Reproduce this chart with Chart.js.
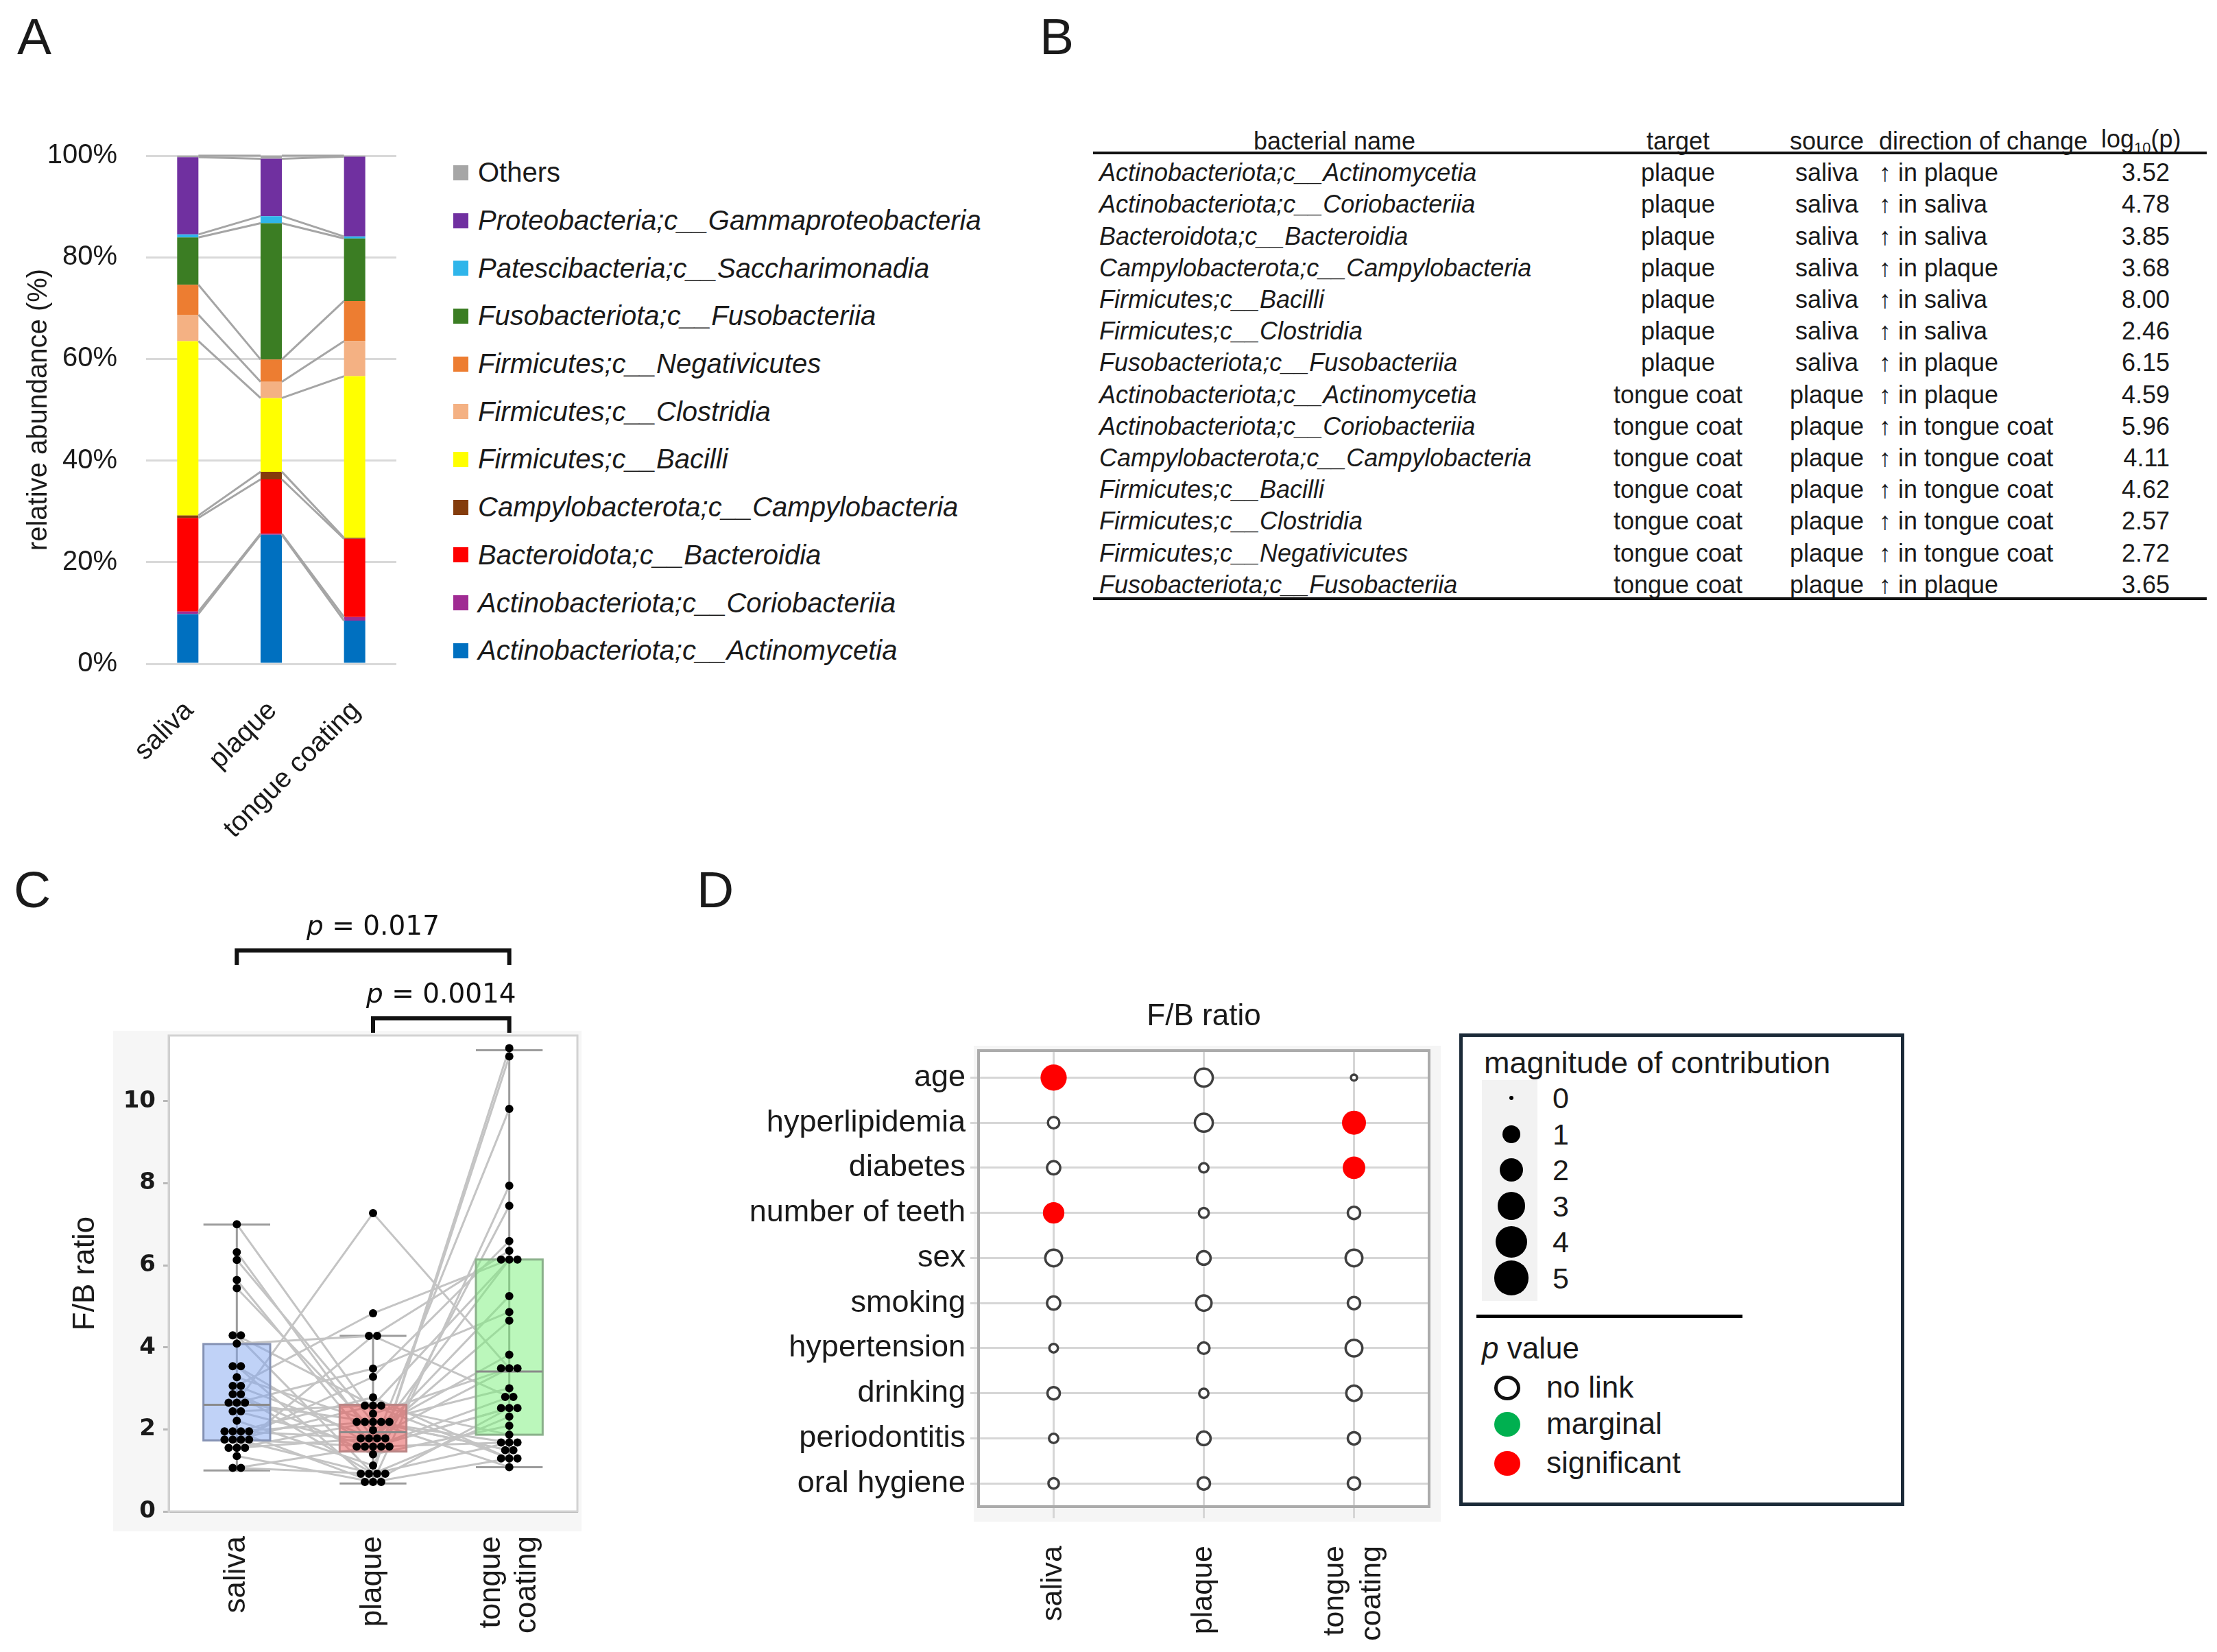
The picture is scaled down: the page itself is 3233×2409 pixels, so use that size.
<!DOCTYPE html>
<html>
<head>
<meta charset="utf-8">
<script src="https://cdn.jsdelivr.net/npm/chart.js@4.4.1/dist/chart.umd.min.js"></script>
<style>
  html, body { margin: 0; padding: 0; background: #fff; }
  body { position: relative; width: 3233px; height: 2409px; overflow: hidden;
         font-family: 'Liberation Sans', Arial, sans-serif; color: #1a1a1a; }
  canvas { position: absolute; }
  .panel-label { position: absolute; font-size: 75px; line-height: 1; }
  .it { font-style: italic; }

  #legendA { position: absolute; left: 661px; top: 217px; }
  #legendA .row { height: 69.7px; display: flex; align-items: center; font-size: 40px; white-space: nowrap; }
  #legendA .swatch { width: 22px; height: 22px; margin-right: 14px; flex: none; }

  #tableB { position: absolute; left: 1588px; top: 182px; width: 1624px; border-collapse: collapse;
            table-layout: fixed; font-size: 36px; }
  #tableB th, #tableB td { padding: 0; white-space: nowrap; font-weight: normal; }
  #tableB th { height: 46px; text-align: center; }
  #tableB td { height: 46.2px; text-align: center; }
  #tableB .c1 { text-align: left; padding-left: 15px; font-style: italic; }
  #tableB th.c1 { text-align: center; padding-left: 0; font-style: normal; }
  #tableB .c4 { text-align: left; padding-left: 2px; }
  #tableB th.c5 { padding-right: 56px; }
  #tableB td.c5 { text-align: right; padding-right: 48px; }
  .rule { position: absolute; background: #111; }

  #legendD { position: absolute; left: 2128px; top: 1507px; width: 649px; height: 689px;
             box-sizing: border-box; border: 5px solid #1b2a38; }
  .abs { position: absolute; white-space: nowrap; }
  .dot { position: absolute; border-radius: 50%; box-sizing: border-box; }
</style>
</head>
<body>

<div class="panel-label" style="left:25px; top:16px;">A</div>
<div class="panel-label" style="left:1516px; top:16px;">B</div>
<div class="panel-label" style="left:20px; top:1260px;">C</div>
<div class="panel-label" style="left:1016px; top:1260px;">D</div>

<canvas id="chartA" width="640" height="1120" style="left:0px; top:140px;"></canvas>
<div id="legendA"></div>

<table id="tableB">
  <colgroup>
    <col style="width:716px"><col style="width:286px"><col style="width:148px"><col style="width:326px"><col style="width:148px">
  </colgroup>
  <thead>
    <tr><th class="c1">bacterial name</th><th>target</th><th>source</th><th class="c4">direction of change</th><th class="c5">log<sub style="font-size:22px">10</sub>(p)</th></tr>
  </thead>
  <tbody id="tableBody"></tbody>
</table>
<div class="rule" style="left:1594px; top:221px; width:1624px; height:4px;"></div>
<div class="rule" style="left:1594px; top:871px; width:1624px; height:4px;"></div>

<canvas id="chartC" width="900" height="1109" style="left:0px; top:1300px;"></canvas>

<canvas id="chartD" width="1080" height="989" style="left:1040px; top:1420px;"></canvas>
<div id="legendD"></div>

<script>
// ---- A: class composition ----
const siteLabels = ['saliva', 'plaque', 'tongue coating'];
const taxaNames = [
    'Actinobacteriota;c__Actinomycetia',
    'Actinobacteriota;c__Coriobacteriia',
    'Bacteroidota;c__Bacteroidia',
    'Campylobacterota;c__Campylobacteria',
    'Firmicutes;c__Bacilli',
    'Firmicutes;c__Clostridia',
    'Firmicutes;c__Negativicutes',
    'Fusobacteriota;c__Fusobacteriia',
    'Patescibacteria;c__Saccharimonadia',
    'Proteobacteria;c__Gammaproteobacteria',
    'Others'
];
const taxaColors = ['#0070c0', '#a02b93', '#ff0000', '#843c0c', '#ffff00', '#f4b183',
                    '#ed7d31', '#3b7d23', '#2fb5ea', '#7030a0', '#a6a6a6'];
// relative abundance (%), same order as taxaNames
const salivaAbundance = [9.8, 0.5, 18.4, 0.5, 34.3, 5.2, 5.9, 9.3, 0.6, 15.2, 0.3];
const plaqueAbundance = [25.4, 0.2, 10.7, 1.5, 14.5, 3.2, 4.4, 26.8, 1.4, 11.3, 0.6];
const tongueAbundance = [8.5, 0.7, 15.4, 0.2, 31.8, 6.9, 7.9, 12.3, 0.4, 15.7, 0.2];
const abundanceTicks = [0, 20, 40, 60, 80, 100];

// ---- B: differential abundance table ----
const tableNames = [
    'Actinobacteriota;c__Actinomycetia', 'Actinobacteriota;c__Coriobacteriia', 'Bacteroidota;c__Bacteroidia',
    'Campylobacterota;c__Campylobacteria', 'Firmicutes;c__Bacilli', 'Firmicutes;c__Clostridia',
    'Fusobacteriota;c__Fusobacteriia', 'Actinobacteriota;c__Actinomycetia', 'Actinobacteriota;c__Coriobacteriia',
    'Campylobacterota;c__Campylobacteria', 'Firmicutes;c__Bacilli', 'Firmicutes;c__Clostridia',
    'Firmicutes;c__Negativicutes', 'Fusobacteriota;c__Fusobacteriia'
];
const tableTargets = ['plaque', 'plaque', 'plaque', 'plaque', 'plaque', 'plaque', 'plaque',
                      'tongue coat', 'tongue coat', 'tongue coat', 'tongue coat', 'tongue coat', 'tongue coat', 'tongue coat'];
const tableSources = ['saliva', 'saliva', 'saliva', 'saliva', 'saliva', 'saliva', 'saliva',
                      'plaque', 'plaque', 'plaque', 'plaque', 'plaque', 'plaque', 'plaque'];
const tableHigherIn = ['plaque', 'saliva', 'saliva', 'plaque', 'saliva', 'saliva', 'plaque',
                       'plaque', 'tongue coat', 'tongue coat', 'tongue coat', 'tongue coat', 'tongue coat', 'plaque'];
const tableLogP = ['3.52', '4.78', '3.85', '3.68', '8.00', '2.46', '6.15',
                   '4.59', '5.96', '4.11', '4.62', '2.57', '2.72', '3.65'];

// ---- C: F/B ratio per subject (index = subject) ----
const fbSites = ['saliva', 'plaque', ['tongue', 'coating']];
const fbSaliva = [7.00, 6.32, 6.13, 5.64, 5.44, 4.29, 4.29, 4.09, 3.54, 3.54, 3.27, 3.06, 3.06, 2.86, 2.86, 2.65, 2.65, 2.65,
                  2.44, 2.44, 2.21, 1.95, 1.95, 1.95, 1.95, 1.75, 1.75, 1.75, 1.75, 1.55, 1.55, 1.55, 1.35, 1.06, 1.06];
const fbPlaque = [2.38, 1.78, 2.18, 1.58, 1.98, 0.92, 2.58, 4.28, 1.58, 0.72, 2.18, 1.78, 4.83, 0.92, 1.39, 7.27, 2.18, 3.48,
                  1.58, 2.58, 1.12, 2.78, 1.78, 0.72, 2.18, 3.28, 1.58, 0.92, 2.58, 2.18, 4.28, 1.78, 0.72, 1.58, 0.92];
const fbTongue = [3.49, 4.65, 1.68, 2.79, 3.82, 11.29, 1.29, 6.35, 2.52, 7.94, 1.49, 6.14, 6.14, 11.09, 2.09, 3.49, 1.08, 4.86,
                  9.81, 1.87, 7.45, 1.29, 5.25, 2.52, 3.00, 6.59, 1.68, 2.31, 6.14, 1.49, 2.79, 3.49, 1.29, 2.52, 1.68];
const boxLow = [1.00, 0.68, 1.08];
const boxQ1 = [1.73, 1.46, 1.87];
const boxMedian = [2.60, 1.93, 3.41];
const boxQ3 = [4.08, 2.60, 6.14];
const boxHigh = [6.99, 4.28, 11.24];
const fbTicks = [0, 2, 4, 6, 8, 10];
const bracketFrom = [0, 1];
const bracketTo = [2, 2];
const bracketP = ['0.017', '0.0014'];

// ---- D: contribution of host factors ----
const factorNames = ['age', 'hyperlipidemia', 'diabetes', 'number of teeth', 'sex', 'smoking',
                     'hypertension', 'drinking', 'periodontitis', 'oral hygiene'];
const contribSaliva = [2.6, 0.5, 0.7, 1.6, 1.2, 0.7, 0.25, 0.6, 0.3, 0.4];
const contribPlaque = [1.4, 1.4, 0.3, 0.35, 0.75, 1.0, 0.5, 0.3, 0.75, 0.6];
const contribTongue = [0.1, 2.1, 1.8, 0.6, 1.2, 0.6, 1.2, 1.0, 0.6, 0.6];
const statusSaliva = ['significant', 'no link', 'no link', 'significant', 'no link', 'no link', 'no link', 'no link', 'no link', 'no link'];
const statusPlaque = ['no link', 'no link', 'no link', 'no link', 'no link', 'no link', 'no link', 'no link', 'no link', 'no link'];
const statusTongue = ['no link', 'significant', 'significant', 'no link', 'no link', 'no link', 'no link', 'no link', 'no link', 'no link'];
const sizeLegendSteps = [0, 1, 2, 3, 4, 5];
const statusLabels = ['no link', 'marginal', 'significant'];
const statusColors = { 'no link': '#ffffff', 'marginal': '#00b050', 'significant': '#ff0000' };

const FONT = "'Liberation Sans', Arial, sans-serif";
const bubbleRadius = v => 3 + 10 * Math.sqrt(v);

Chart.defaults.font.family = FONT;
Chart.defaults.color = '#1a1a1a';

// grey connectors between stacked segment tops (Excel "series lines")
const seriesLinesPlugin = {
    id: 'seriesLines',
    afterDatasetsDraw(chart) {
        const ctx = chart.ctx;
        ctx.save();
        ctx.strokeStyle = '#a5a5a5';
        ctx.lineWidth = 3;
        chart.data.datasets.forEach((ds, k) => {
            const bars = chart.getDatasetMeta(k).data;
            for (let i = 0; i < bars.length - 1; i++) {
                const a = bars[i], b = bars[i + 1];
                ctx.beginPath();
                ctx.moveTo(a.x + a.width / 2, a.y);
                ctx.lineTo(b.x - b.width / 2, b.y);
                ctx.stroke();
            }
        });
        ctx.restore();
    }
};

// vertical category labels (drawn so two-line labels stay centred on the tick)
const siteLabelPlugin = (labels, gap, size, lineGap) => ({
    id: 'siteLabels',
    afterDraw(chart) {
        const { ctx, chartArea, scales: { x } } = chart;
        ctx.save();
        ctx.fillStyle = '#1a1a1a';
        ctx.font = size + 'px ' + FONT;
        ctx.textAlign = 'right';
        ctx.textBaseline = 'middle';
        labels.forEach((label, g) => {
            const lines = [].concat(label);
            ctx.save();
            ctx.translate(x.getPixelForValue(g), chartArea.bottom + gap);
            ctx.rotate(-Math.PI / 2);
            lines.forEach((line, j) => ctx.fillText(line, 0, (j - (lines.length - 1) / 2) * lineGap));
            ctx.restore();
        });
        ctx.restore();
    }
});

// light grey plate behind a plot, white plot area and thin frame
const platePlugin = (pad, plate, frame, frameWidth) => ({
    id: 'plate',
    beforeDraw(chart) {
        const { ctx, chartArea: a } = chart;
        ctx.save();
        ctx.fillStyle = plate;
        ctx.fillRect(a.left - pad[0], a.top - pad[1], a.width + pad[0] + pad[2], a.height + pad[1] + pad[3]);
        ctx.fillStyle = '#ffffff';
        ctx.fillRect(a.left, a.top, a.width, a.height);
        ctx.restore();
    },
    beforeDatasetsDraw(chart) {
        const { ctx, chartArea: a } = chart;
        ctx.save();
        ctx.strokeStyle = frame;
        ctx.lineWidth = frameWidth;
        ctx.strokeRect(a.left, a.top, a.width, a.height);
        ctx.restore();
    }
});

const boxFills = ['rgba(130,165,240,0.5)', 'rgba(230,90,90,0.55)', 'rgba(120,240,120,0.5)'];
const boxEdges = ['#8592b4', '#bb8686', '#8bb08b'];

// whiskers go under the paired lines, the translucent boxes over them, dots on top
const boxPlotPlugin = {
    id: 'boxes',
    beforeDatasetsDraw(chart) {
        const { ctx, scales: { x, y } } = chart;
        ctx.save();
        ctx.lineWidth = 3;
        ctx.strokeStyle = '#9c9c9c';
        boxMedian.forEach((med, g) => {
            const cx = x.getPixelForValue(g);
            const half = x.getPixelForValue(g + 0.245) - cx;
            const yLow = y.getPixelForValue(boxLow[g]);
            const yHigh = y.getPixelForValue(boxHigh[g]);
            ctx.beginPath();
            ctx.moveTo(cx, yHigh); ctx.lineTo(cx, yLow);
            ctx.moveTo(cx - half, yHigh); ctx.lineTo(cx + half, yHigh);
            ctx.moveTo(cx - half, yLow); ctx.lineTo(cx + half, yLow);
            ctx.stroke();
        });
        ctx.restore();
    },
    beforeDatasetDraw(chart, args) {
        if (args.index !== 0) return;
        const { ctx, scales: { x, y } } = chart;
        ctx.save();
        ctx.lineWidth = 3;
        boxMedian.forEach((med, g) => {
            const cx = x.getPixelForValue(g);
            const half = x.getPixelForValue(g + 0.245) - cx;
            const y1 = y.getPixelForValue(boxQ1[g]);
            const y3 = y.getPixelForValue(boxQ3[g]);
            const ym = y.getPixelForValue(med);
            ctx.fillStyle = boxFills[g];
            ctx.fillRect(cx - half, y3, 2 * half, y1 - y3);
            ctx.strokeStyle = boxEdges[g];
            ctx.strokeRect(cx - half, y3, 2 * half, y1 - y3);
            ctx.strokeStyle = '#8a8a8a';
            ctx.beginPath();
            ctx.moveTo(cx - half, ym); ctx.lineTo(cx + half, ym);
            ctx.stroke();
        });
        ctx.restore();
    }
};

// significance brackets above panel C
const bracketPlugin = {
    id: 'brackets',
    afterDraw(chart) {
        const { ctx, chartArea, scales: { x } } = chart;
        const levels = [chartArea.top - 124, chartArea.top - 25];
        ctx.save();
        ctx.strokeStyle = '#111';
        ctx.fillStyle = '#111';
        ctx.lineWidth = 6;
        bracketP.forEach((p, i) => {
            const x0 = x.getPixelForValue(bracketFrom[i]);
            const x1 = x.getPixelForValue(bracketTo[i]);
            const yb = levels[i];
            ctx.beginPath();
            ctx.moveTo(x0, yb + 21); ctx.lineTo(x0, yb); ctx.lineTo(x1, yb); ctx.lineTo(x1, yb + 21);
            ctx.stroke();
            const italic = "italic 39px 'DejaVu Sans', sans-serif";
            const plain = "39px 'DejaVu Sans', sans-serif";
            const rest = ' = ' + p;
            ctx.font = italic;
            const wp = ctx.measureText('p').width;
            ctx.font = plain;
            const wr = ctx.measureText(rest).width;
            const start = (x0 + x1) / 2 - (wp + wr) / 2;
            ctx.textBaseline = 'middle';
            ctx.textAlign = 'left';
            ctx.font = italic;
            ctx.fillText('p', start, yb - 33);
            ctx.font = plain;
            ctx.fillText(rest, start + wp, yb - 33);
        });
        ctx.restore();
    }
};

const plotTitlePlugin = {
    id: 'plotTitle',
    afterDraw(chart) {
        const { ctx, chartArea: a } = chart;
        ctx.save();
        ctx.font = '44px ' + FONT;
        ctx.fillStyle = '#1a1a1a';
        ctx.textAlign = 'center';
        ctx.textBaseline = 'middle';
        ctx.fillText('F/B ratio', (a.left + a.right) / 2, a.top - 49);
        ctx.restore();
    }
};

// spread tied values sideways like a dot plot
function spreadX(values, g) {
    const counts = {}, seen = {};
    values.forEach(v => { counts[v] = (counts[v] || 0) + 1; });
    return values.map(v => {
        seen[v] = seen[v] === undefined ? 0 : seen[v] + 1;
        return g + (seen[v] - (counts[v] - 1) / 2) * 0.06;
    });
}

class FigureBoard {
    constructor() {
        this.init();
    }

    init() {
        this.renderAbundanceLegend();
        this.renderTable();
        this.renderFactorLegend();
        this.createCharts();
    }

    renderAbundanceLegend() {
        const box = document.getElementById('legendA');
        for (let k = taxaNames.length - 1; k >= 0; k--) {
            const row = document.createElement('div');
            row.className = 'row';
            const sw = document.createElement('span');
            sw.className = 'swatch';
            sw.style.background = taxaColors[k];
            const txt = document.createElement('span');
            txt.textContent = taxaNames[k];
            if (taxaNames[k] !== 'Others') txt.className = 'it';
            row.appendChild(sw);
            row.appendChild(txt);
            box.appendChild(row);
        }
    }

    renderTable() {
        const body = document.getElementById('tableBody');
        tableNames.forEach((name, i) => {
            const tr = document.createElement('tr');
            const cells = [name, tableTargets[i], tableSources[i], '\u2191 in ' + tableHigherIn[i], tableLogP[i]];
            cells.forEach((c, j) => {
                const td = document.createElement('td');
                td.className = 'c' + (j + 1);
                td.textContent = c;
                tr.appendChild(td);
            });
            body.appendChild(tr);
        });
    }

    renderFactorLegend() {
        const add = (html, style, cls) => {
            const el = document.createElement('div');
            el.className = cls || 'abs';
            el.innerHTML = html;
            Object.assign(el.style, style);
            document.body.appendChild(el);
            return el;
        };
        add('magnitude of contribution', { left: '2164px', top: '1524px', fontSize: '45px', lineHeight: '52px' });
        add('', { left: '2161px', top: '1575px', width: '81px', height: '322px', background: '#f2f2f2' });
        sizeLegendSteps.forEach((v, i) => {
            const cy = 1601 + 52.5 * i;
            const r = bubbleRadius(v);
            add('', { left: (2204 - r) + 'px', top: (cy - r) + 'px', width: 2 * r + 'px', height: 2 * r + 'px', background: '#000' }, 'dot');
            add(String(v), { left: '2264px', top: (cy - 25) + 'px', fontSize: '43px', lineHeight: '50px' });
        });
        add('', { left: '2153px', top: '1917px', width: '388px', height: '5px', background: '#000' });
        add('<span class="it">p</span> value', { left: '2161px', top: '1940px', fontSize: '44px', lineHeight: '52px' });
        statusLabels.forEach((label, i) => {
            const cy = [2024, 2077, 2134][i];
            const open = label === 'no link';
            add('', { left: (2198 - 19) + 'px', top: (cy - 18) + 'px', width: '38px', height: '36px',
                      background: statusColors[label], border: open ? '5px solid #111' : 'none' }, 'dot');
            add(label, { left: '2255px', top: (cy - 27) + 'px', fontSize: '44px', lineHeight: '52px' });
        });
    }

    createCharts() {
        try {
            this.createAbundanceChart();
            this.createRatioChart();
            this.createFactorChart();
        } catch (error) {
            console.error('Chart creation failed:', error);
        }
    }

    createAbundanceChart() {
        const perSite = [salivaAbundance, plaqueAbundance, tongueAbundance];
        new Chart(document.getElementById('chartA'), {
            type: 'bar',
            data: {
                labels: siteLabels,
                datasets: taxaNames.map((name, k) => ({
                    label: name,
                    data: perSite.map(site => site[k]),
                    backgroundColor: taxaColors[k],
                    borderWidth: 0,
                    barPercentage: 1,
                    categoryPercentage: 0.255
                }))
            },
            options: {
                responsive: false,
                animation: false,
                events: [],
                layout: { padding: { top: 87, right: 62, left: 0, bottom: 0 } },
                plugins: { legend: { display: false }, tooltip: { enabled: false } },
                scales: {
                    x: {
                        stacked: true,
                        grid: { display: false },
                        border: { display: false },
                        ticks: { minRotation: 45, maxRotation: 45, padding: 37, labelOffset: 2,
                                 font: { size: 40 } },
                        afterFit: s => { s.height = 292; }
                    },
                    y: {
                        stacked: true,
                        min: 0,
                        max: 100,
                        afterBuildTicks: s => { s.ticks = abundanceTicks.map(v => ({ value: v })); },
                        grid: { color: '#d9d9d9', lineWidth: 3, drawTicks: false },
                        border: { display: false },
                        ticks: { padding: 42, font: { size: 40 }, callback: v => v + '%' },
                        title: { display: true, text: 'relative abundance (%)', font: { size: 40 },
                                 padding: { top: 33, bottom: 0 } },
                        afterFit: s => { s.width = 213; }
                    }
                }
            },
            plugins: [seriesLinesPlugin]
        });
    }

    createRatioChart() {
        const groups = [fbSaliva, fbPlaque, fbTongue];
        const dots = [];
        groups.forEach((vals, g) => {
            const xs = spreadX(vals, g);
            vals.forEach((v, i) => dots.push({ x: xs[i], y: v }));
        });
        const pairLines = fbSaliva.map((v, i) => ({
            type: 'line',
            data: groups.map((vals, g) => ({ x: g, y: vals[i] })),
            borderColor: '#c4c4c4',
            borderWidth: 3,
            pointRadius: 0,
            order: 1
        }));
        new Chart(document.getElementById('chartC'), {
            type: 'scatter',
            data: {
                datasets: [{
                    data: dots,
                    backgroundColor: '#000',
                    borderWidth: 0,
                    pointRadius: 6,
                    order: 0
                }].concat(pairLines)
            },
            options: {
                responsive: false,
                animation: false,
                events: [],
                layout: { padding: { top: 210, right: 58, left: 0, bottom: 0 } },
                plugins: { legend: { display: false }, tooltip: { enabled: false } },
                scales: {
                    x: {
                        type: 'linear',
                        min: -0.5,
                        max: 2.5,
                        afterBuildTicks: s => { s.ticks = [0, 1, 2].map(v => ({ value: v })); },
                        ticks: { display: false },
                        grid: { display: false },
                        border: { color: '#a8a8a8', width: 3 },
                        afterFit: s => { s.height = 205; }
                    },
                    y: {
                        min: 0,
                        max: 11.6,
                        afterBuildTicks: s => { s.ticks = fbTicks.map(v => ({ value: v })); },
                        grid: { drawOnChartArea: false, color: '#b8b8b8', lineWidth: 3, tickLength: 8 },
                        border: { color: '#c8c8c8', width: 3 },
                        ticks: { padding: 11, color: '#1a1a1a',
                                 font: { size: 34, weight: 'bold', family: "'DejaVu Sans', sans-serif" } },
                        title: { display: true, text: 'F/B ratio', font: { size: 44 }, padding: { top: 98, bottom: 0 } },
                        afterFit: s => { s.width = 246; }
                    }
                }
            },
            plugins: [platePlugin([81, 7, 6, 29], '#f6f6f6', '#d2d2d2', 3), boxPlotPlugin,
                      siteLabelPlugin(fbSites, 36, 44, 52), bracketPlugin]
        });
    }

    createFactorChart() {
        const contrib = [contribSaliva, contribPlaque, contribTongue];
        const status = [statusSaliva, statusPlaque, statusTongue];
        const points = [], fills = [], widths = [];
        contrib.forEach((vals, g) => {
            vals.forEach((v, r) => {
                const open = status[g][r] === 'no link';
                const bw = open ? 3.5 : 0;
                points.push({ x: g, y: r, r: bubbleRadius(v) - bw / 2 });
                fills.push(statusColors[status[g][r]]);
                widths.push(bw);
            });
        });
        new Chart(document.getElementById('chartD'), {
            type: 'bubble',
            data: {
                datasets: [{
                    data: points,
                    backgroundColor: fills,
                    borderColor: '#404040',
                    borderWidth: widths
                }]
            },
            options: {
                responsive: false,
                animation: false,
                events: [],
                layout: { padding: { top: 112, right: 36, left: 0, bottom: 0 } },
                plugins: { legend: { display: false }, tooltip: { enabled: false } },
                scales: {
                    x: {
                        type: 'linear',
                        min: -0.5,
                        max: 2.5,
                        afterBuildTicks: s => { s.ticks = [0, 1, 2].map(v => ({ value: v })); },
                        ticks: { display: false },
                        grid: { color: '#d6d6d6', lineWidth: 3, tickLength: 17 },
                        border: { display: false },
                        afterFit: s => { s.height = 212; }
                    },
                    y: {
                        reverse: true,
                        min: -0.6,
                        max: 9.515,
                        afterBuildTicks: s => { s.ticks = factorNames.map((n, i) => ({ value: i })); },
                        grid: { color: '#d6d6d6', lineWidth: 3, tickLength: 12 },
                        border: { display: false },
                        ticks: { padding: 7, font: { size: 45 }, callback: v => factorNames[v] },
                        afterFit: s => { s.width = 387; }
                    }
                }
            },
            plugins: [platePlugin([7, 7, 17, 22], '#f5f5f5', '#ababab', 4),
                      siteLabelPlugin(fbSites, 57, 43, 54), plotTitlePlugin]
        });
    }
}

if (document.readyState === 'loading') {
    document.addEventListener('DOMContentLoaded', () => { new FigureBoard(); });
} else {
    new FigureBoard();
}
</script>
</body>
</html>
